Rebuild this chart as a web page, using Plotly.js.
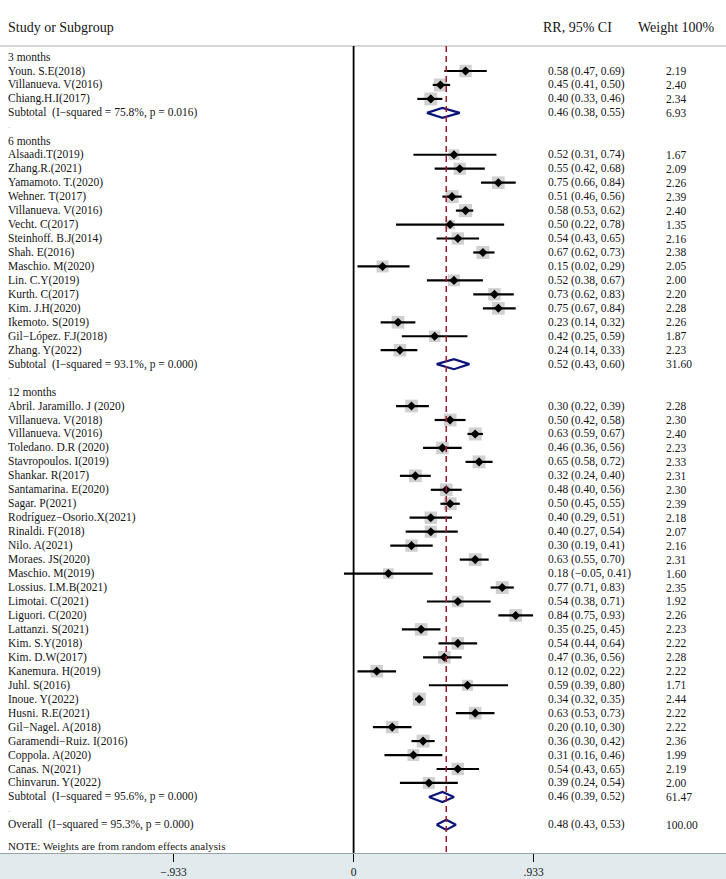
<!DOCTYPE html>
<html>
<head>
<meta charset="utf-8">
<script src="https://cdn.plot.ly/plotly-3.0.1.min.js"></script>
<style>html,body{margin:0;padding:0;background:#fff;}#chart{width:726px;height:879px;}</style>
</head>
<body>
<div id="chart"></div>
<script>
// ---------- DATA ----------
const groupLabels = ['3 months', '6 months', '12 months'];

const studies3 = ['Youn. S.E(2018)', 'Villanueva. V(2016)', 'Chiang.H.I(2017)'];
const rr3 = [0.58, 0.45, 0.40];
const lo3 = [0.47, 0.41, 0.33];
const hi3 = [0.69, 0.50, 0.46];
const w3  = [2.19, 2.40, 2.34];

const studies6 = ['Alsaadi.T(2019)', 'Zhang.R.(2021)', 'Yamamoto. T.(2020)', 'Wehner. T(2017)',
  'Villanueva. V(2016)', 'Vecht. C(2017)', 'Steinhoff. B.J(2014)', 'Shah. E(2016)', 'Maschio. M(2020)',
  'Lin. C.Y(2019)', 'Kurth. C(2017)', 'Kim. J.H(2020)', 'Ikemoto. S(2019)', 'Gil\u2212López. F.J(2018)', 'Zhang. Y(2022)'];
const rr6 = [0.52, 0.55, 0.75, 0.51, 0.58, 0.50, 0.54, 0.67, 0.15, 0.52, 0.73, 0.75, 0.23, 0.42, 0.24];
const lo6 = [0.31, 0.42, 0.66, 0.46, 0.53, 0.22, 0.43, 0.62, 0.02, 0.38, 0.62, 0.67, 0.14, 0.25, 0.14];
const hi6 = [0.74, 0.68, 0.84, 0.56, 0.62, 0.78, 0.65, 0.73, 0.29, 0.67, 0.83, 0.84, 0.32, 0.59, 0.33];
const w6  = [1.67, 2.09, 2.26, 2.39, 2.40, 1.35, 2.16, 2.38, 2.05, 2.00, 2.20, 2.28, 2.26, 1.87, 2.23];

const studies12 = ['Abril. Jaramillo. J (2020)', 'Villanueva. V(2018)', 'Villanueva. V(2016)', 'Toledano. D.R (2020)',
  'Stavropoulos. I(2019)', 'Shankar. R(2017)', 'Santamarina. E(2020)', 'Sagar. P(2021)', 'Rodríguez\u2212Osorio.X(2021)',
  'Rinaldi. F(2018)', 'Nilo. A(2021)', 'Moraes. JS(2020)', 'Maschio. M(2019)', 'Lossius. I.M.B(2021)', 'Limotai. C(2021)',
  'Liguori. C(2020)', 'Lattanzi. S(2021)', 'Kim. S.Y(2018)', 'Kim. D.W(2017)', 'Kanemura. H(2019)', 'Juhl. S(2016)',
  'Inoue. Y(2022)', 'Husni. R.E(2021)', 'Gil\u2212Nagel. A(2018)', 'Garamendi\u2212Ruiz. I(2016)', 'Coppola. A(2020)',
  'Canas. N(2021)', 'Chinvarun. Y(2022)'];
const rr12 = [0.30, 0.50, 0.63, 0.46, 0.65, 0.32, 0.48, 0.50, 0.40, 0.40, 0.30, 0.63, 0.18, 0.77, 0.54, 0.84, 0.35, 0.54, 0.47, 0.12, 0.59, 0.34, 0.63, 0.20, 0.36, 0.31, 0.54, 0.39];
const lo12 = [0.22, 0.42, 0.59, 0.36, 0.58, 0.24, 0.40, 0.45, 0.29, 0.27, 0.19, 0.55, -0.05, 0.71, 0.38, 0.75, 0.25, 0.44, 0.36, 0.02, 0.39, 0.32, 0.53, 0.10, 0.30, 0.16, 0.43, 0.24];
const hi12 = [0.39, 0.58, 0.67, 0.56, 0.72, 0.40, 0.56, 0.55, 0.51, 0.54, 0.41, 0.70, 0.41, 0.83, 0.71, 0.93, 0.45, 0.64, 0.56, 0.22, 0.80, 0.35, 0.73, 0.30, 0.42, 0.46, 0.65, 0.54];
const w12  = [2.28, 2.30, 2.40, 2.23, 2.33, 2.31, 2.30, 2.39, 2.18, 2.07, 2.16, 2.31, 1.60, 2.35, 1.92, 2.26, 2.23, 2.22, 2.28, 2.22, 1.71, 2.44, 2.22, 2.22, 2.36, 1.99, 2.19, 2.00];

const subtotalLabels = ['Subtotal  (I\u2212squared = 75.8%, p = 0.016)', 'Subtotal  (I\u2212squared = 93.1%, p = 0.000)', 'Subtotal  (I\u2212squared = 95.6%, p = 0.000)'];
const subRR = [0.46, 0.52, 0.46];
const subLo = [0.38, 0.43, 0.39];
const subHi = [0.55, 0.60, 0.52];
const subW  = [6.93, 31.60, 61.47];

const overallLabel = 'Overall  (I\u2212squared = 95.3%, p = 0.000)';
const overallRR = 0.48, overallLo = 0.43, overallHi = 0.53, overallW = 100.00;

const noteText = 'NOTE: Weights are from random effects analysis';
const tickVals = [-0.933, 0, 0.933];
const tickLabels = ['\u2212.933', '0', '.933'];

// ---------- LAYOUT BUILD ----------
const FONT = 'Liberation Serif, Times New Roman, serif';
const TXT = '#151515';
const W = 726, H = 879, B = 26;
const groups = [
  {s: studies3, rr: rr3, lo: lo3, hi: hi3, w: w3},
  {s: studies6, rr: rr6, lo: lo6, hi: hi6, w: w6},
  {s: studies12, rr: rr12, lo: lo12, hi: hi12, w: w12}
];
const fmt = v => (v < 0 ? '\u2212' + Math.abs(v).toFixed(2) : v.toFixed(2));
const ciText = (r, l, h) => fmt(r) + ' (' + fmt(l) + ', ' + fmt(h) + ')';

const ann = [];
const colName = 6 / W, colCI = 546 / W, colW = 664 / W;
function addText(x, y, text, size, color) {
  ann.push({xref: 'paper', yref: 'y', x: x, y: y, text: text, showarrow: false,
    xanchor: 'left', yanchor: 'middle', font: {family: FONT, size: size || 11.5, color: color || TXT}});
}

const sx = [], sy = [], sw = [], slo = [], shi = [];
const diamonds = [];
let row = 0;
groups.forEach((g, gi) => {
  row++; addText(colName, row, groupLabels[gi]);
  g.s.forEach((name, i) => {
    row++;
    addText(colName, row, name);
    addText(colCI, row, ciText(g.rr[i], g.lo[i], g.hi[i]));
    addText(colW, row, g.w[i].toFixed(2));
    sx.push(g.rr[i]); sy.push(row); sw.push(g.w[i]); slo.push(g.lo[i]); shi.push(g.hi[i]);
  });
  row++;
  addText(colName, row, subtotalLabels[gi]);
  addText(colCI, row, ciText(subRR[gi], subLo[gi], subHi[gi]));
  addText(colW, row, subW[gi].toFixed(2));
  diamonds.push({r: subRR[gi], l: subLo[gi], h: subHi[gi], y: row});
  row++; addText(colName, row - 0.15, '.', 9, '#aaa');
});
row++;
addText(colName, row, overallLabel);
addText(colCI, row, ciText(overallRR, overallLo, overallHi));
addText(colW, row, overallW.toFixed(2));
diamonds.push({r: overallRR, l: overallLo, h: overallHi, y: row});
addText(colName, row + 1.5, noteText, 11);

// headers
addText(colName, -1.15, 'Study or Subgroup', 14);
addText(541 / W, -1.15, 'RR, 95% CI', 14);
addText(636 / W, -1.15, 'Weight 100%', 14);

const traces = [];
traces.push({
  type: 'scatter', mode: 'markers', x: sx, y: sy, hoverinfo: 'skip',
  marker: {symbol: 'square', color: '#bcbcbc', size: sw.map(v => 8.4 * Math.sqrt(v)), line: {width: 0}}
});
traces.push({
  type: 'scatter', mode: 'markers', x: sx, y: sy, hoverinfo: 'skip',
  marker: {symbol: 'diamond', color: '#000', size: 7, line: {width: 0}},
  error_x: {type: 'data', symmetric: false, array: sx.map((v, i) => shi[i] - v),
    arrayminus: sx.map((v, i) => v - slo[i]), width: 0, thickness: 2.2, color: '#000'}
});
const dh = 0.36;
diamonds.forEach(d => {
  traces.push({
    type: 'scatter', mode: 'lines', fill: 'toself', fillcolor: '#fff', hoverinfo: 'skip',
    x: [d.l, d.r, d.h, d.r, d.l], y: [d.y, d.y - dh, d.y, d.y + dh, d.y],
    line: {color: '#0c1478', width: 2.2}
  });
});

// row 2 sits at y=71px, 13.96 px per row, plot height 853px
const rowPx = 13.96, plotH = H - B;
const yTop = 2 - 71 / rowPx, yBot = 2 + (plotH - 71) / rowPx;
const zeroPx = 353.6, pxPerUnit = 193;
const xMin = -zeroPx / pxPerUnit, xMax = (W - zeroPx) / pxPerUnit;
const headerLineRow = 2 + (46 - 71) / rowPx;

const layout = {
  width: W, height: H, margin: {l: 0, r: 0, t: 0, b: B, pad: 0},
  paper_bgcolor: '#fff', plot_bgcolor: 'rgba(0,0,0,0)', showlegend: false,
  xaxis: {range: [xMin, xMax], showgrid: false, zeroline: false, showline: true, linecolor: '#9aa4a8', linewidth: 1,
    tickmode: 'array', tickvals: tickVals, ticktext: tickLabels, ticks: 'outside', ticklen: 8, tickwidth: 1.6,
    tickcolor: '#000', tickfont: {family: FONT, size: 11.5, color: TXT}, fixedrange: true},
  yaxis: {range: [yBot, yTop], showgrid: false, zeroline: false, showticklabels: false, showline: false, fixedrange: true},
  annotations: ann,
  shapes: [
    {type: 'rect', xref: 'paper', yref: 'paper', x0: 0, x1: 1, y0: -B / plotH, y1: 0, fillcolor: '#e1eaed', line: {width: 0}, layer: 'below'},
    {type: 'line', xref: 'paper', yref: 'y', x0: 0, x1: 1, y0: headerLineRow, y1: headerLineRow, line: {color: '#c8c8c8', width: 1.5}},
    {type: 'line', xref: 'x', yref: 'y', x0: 0, x1: 0, y0: headerLineRow, y1: yBot, line: {color: '#000', width: 1.8}},
    {type: 'line', xref: 'x', yref: 'y', x0: overallRR, x1: overallRR, y0: headerLineRow, y1: yBot, line: {color: '#a01c2c', width: 1.5, dash: '6px,4px'}}
  ]
};

Plotly.newPlot('chart', traces, layout, {displayModeBar: false, staticPlot: true});
</script>
</body>
</html>
